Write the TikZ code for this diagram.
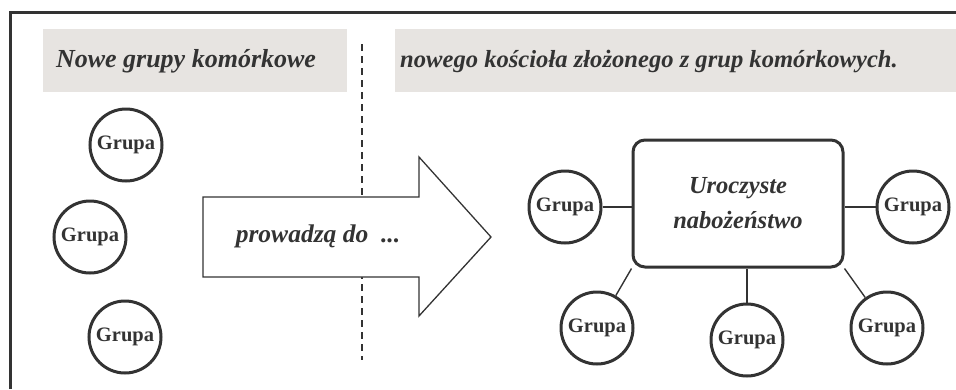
\documentclass[tikz,border=0pt]{standalone}
\usepackage{fontspec}
\setmainfont{Liberation Serif}
\definecolor{ink}{HTML}{333333}
\definecolor{hdr}{HTML}{E7E4E1}
\begin{document}
\begin{tikzpicture}[x=1pt,y=-1pt,
  grp/.style={circle,draw=ink,line width=3pt,minimum size=72pt,inner sep=0pt,
    font=\fontsize{20.5}{22}\selectfont\bfseries,text=ink,fill=white},
  hdrtext/.style={font=\fontsize{#1}{#1}\selectfont\bfseries\itshape,text=ink},
  link/.style={draw=ink,line width=1.4pt}]
\useasboundingbox (0,0) rectangle (956,389);
% frame
\draw[ink,line width=3pt] (10,389) -- (10,12) -- (957,12);
% header boxes
\fill[hdr] (43,29) rectangle (347,92);
\fill[hdr] (395,29) rectangle (956,92);
\node[hdrtext=26] (hl) at (186,61) {Nowe grupy komórkowe};
\node[hdrtext=24.6] (hr) at (649,61) {nowego kościoła złożonego z grup komórkowych.};
% dashed divider
\coordinate (d1) at (362,44);
\coordinate (d2) at (362,360);
\draw[ink,line width=1.4pt,dash pattern=on 7pt off 5pt] (d1) -- (d2);
% big arrow
\draw[ink,line width=1.3pt,fill=white,line join=miter]
  (203,197) -- (419,197) -- (419,157) -- (491,237) -- (419,316) -- (419,277) -- (203,277) -- cycle;
\node[hdrtext=25.5] (arr) at (318,236) {prowadzą do\ \ ...};
% left groups
\node[grp] (g1) at (126,145) {Grupa};
\node[grp] (g2) at (90,237) {Grupa};
\node[grp] (g3) at (125,337) {Grupa};
% central box
\node[draw=ink,line width=3pt,rounded corners=12pt,minimum width=210pt,minimum height=127pt,
  align=center,font=\fontsize{24.5}{35}\selectfont\bfseries\itshape,text=ink] (c) at (738,203.5)
  {Uroczyste\\nabożeństwo};
% right groups
\node[grp] (r1) at (565,207) {Grupa};
\node[grp] (r2) at (913,207) {Grupa};
\node[grp] (r3) at (597,328) {Grupa};
\node[grp] (r4) at (747,340) {Grupa};
\node[grp] (r5) at (887,328) {Grupa};
% connectors
\draw[link] (r1) -- (c.west |- r1);
\draw[link] (r2) -- (c.east |- r2);
\draw[link] (r3) -- (c.south west);
\draw[link] (r4) -- (c.south -| r4);
\draw[link] (r5) -- (c.south east);
\end{tikzpicture}
\end{document}
